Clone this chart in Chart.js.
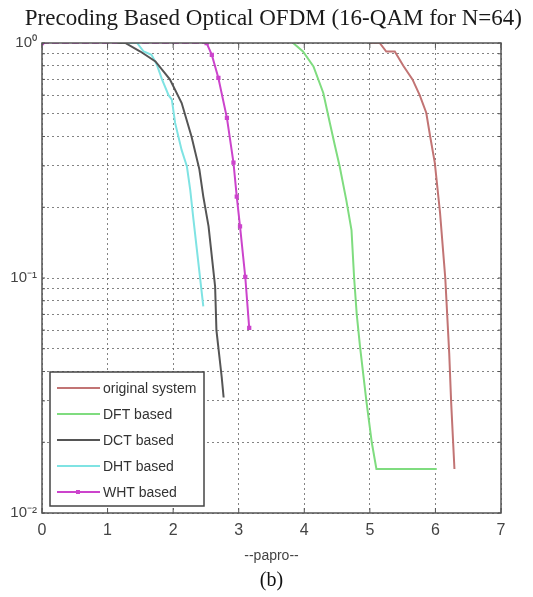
<!DOCTYPE html>
<html>
<head>
<meta charset="utf-8">
<title>Precoding Based Optical OFDM</title>
<script src="https://cdn.jsdelivr.net/npm/chart.js@4.4.1/dist/chart.umd.min.js"></script>
<style>
    body { margin: 0; background: #fff; }
    canvas { display: block; }
</style>
</head>
<body>
<canvas id="grafic" width="533" height="597"></canvas>
<script>
"use strict";

// curves (x = papro, y = CCDF)
const origX = [5.00, 5.15, 5.25, 5.38, 5.51, 5.65, 5.76, 5.86, 5.92, 5.99, 6.07, 6.15, 6.21, 6.24, 6.29];
const origY = [1.0, 1.0, 0.92, 0.92, 0.80, 0.70, 0.60, 0.505, 0.40, 0.31, 0.19, 0.10, 0.048, 0.0295, 0.0154];

const dftX = [3.83, 3.98, 4.14, 4.29, 4.39, 4.47, 4.54, 4.64, 4.72, 4.76, 4.80, 4.85, 4.95, 5.03, 5.10, 6.02];
const dftY = [1.0, 0.92, 0.795, 0.613, 0.457, 0.363, 0.298, 0.215, 0.16, 0.10, 0.07, 0.051, 0.0295, 0.0199, 0.0154, 0.0154];

const dctX = [1.15, 1.27, 1.50, 1.73, 1.95, 2.13, 2.28, 2.40, 2.46, 2.54, 2.64, 2.66, 2.74, 2.77];
const dctY = [1.0, 1.0, 0.92, 0.835, 0.70, 0.555, 0.40, 0.29, 0.222, 0.166, 0.092, 0.06, 0.038, 0.031];

const dhtX = [1.20, 1.45, 1.55, 1.67, 1.75, 1.83, 1.93, 1.98, 2.03, 2.13, 2.21, 2.26, 2.31, 2.46];
const dhtY = [1.0, 1.0, 0.92, 0.89, 0.81, 0.70, 0.60, 0.574, 0.457, 0.35, 0.298, 0.238, 0.177, 0.0757];

const whtX = [0, 2.51, 2.59, 2.69, 2.82, 2.92, 2.97, 3.02, 3.10, 3.16];
const whtY = [1.0, 1.0, 0.89, 0.71, 0.48, 0.31, 0.222, 0.166, 0.101, 0.0613];

const seriesNames = ['original system', 'DFT based', 'DCT based', 'DHT based', 'WHT based'];
const seriesColors = ['#c27474', '#7fdc7f', '#555555', '#7fe3e3', '#cc44cc'];

const xTicks = [0, 1, 2, 3, 4, 5, 6, 7];
const yTicks = [0.01, 0.02, 0.03, 0.04, 0.05, 0.06, 0.07, 0.08, 0.09,
                0.1, 0.2, 0.3, 0.4, 0.5, 0.6, 0.7, 0.8, 0.9, 1];
const yTickLabels = {'0.01': '10⁻²', '0.1': '10⁻¹', '1': '10⁰'};

const sansFont = "'Liberation Sans', Arial, sans-serif";
const serifFont = "'Liberation Serif', 'Times New Roman', serif";

function points(xs, ys) {
    return xs.map(function (x, i) { return {x: x, y: ys[i]}; });
}

function makeSet(i, xs, ys) {
    return {
        label: seriesNames[i],
        data: points(xs, ys),
        borderColor: seriesColors[i],
        backgroundColor: seriesColors[i],
        borderWidth: 2,
        showLine: true,
        tension: 0,
        pointRadius: 0,
        yAxisID: 'y'
    };
}

let whtSet = makeSet(4, whtX, whtY);
whtSet.pointRadius = 1.6;
whtSet.pointStyle = 'rect';
whtSet.segment = {
    borderDash: function (c) {
        return (c.p0.parsed.y === 1 && c.p1.parsed.y === 1) ? [7, 3] : undefined;
    }
};

// box round the plot, inside ticks and the legend in the lower left corner
const framePlugin = {
    id: 'framePlugin',
    afterDatasetsDraw(chart) {
        let ctx = chart.ctx;
        let a = chart.chartArea;
        let xs = chart.scales.x;
        let ys = chart.scales.y;
        ctx.save();
        ctx.strokeStyle = '#555';
        ctx.lineWidth = 1.5;
        ctx.strokeRect(a.left, a.top, a.right - a.left, a.bottom - a.top);

        ctx.lineWidth = 1;
        ctx.beginPath();
        xTicks.forEach(function (v) {
            let px = xs.getPixelForValue(v);
            ctx.moveTo(px, a.bottom); ctx.lineTo(px, a.bottom - 5);
            ctx.moveTo(px, a.top); ctx.lineTo(px, a.top + 5);
        });
        yTicks.forEach(function (v) {
            let py = ys.getPixelForValue(v);
            ctx.moveTo(a.left, py); ctx.lineTo(a.left + 3, py);
            ctx.moveTo(a.right, py); ctx.lineTo(a.right - 3, py);
        });
        ctx.stroke();

        // legend
        let left = a.left + 8;
        let top = a.bottom - 141;
        ctx.fillStyle = '#fff';
        ctx.fillRect(left, top, 154, 134);
        ctx.strokeStyle = '#444';
        ctx.lineWidth = 1.5;
        ctx.strokeRect(left, top, 154, 134);
        ctx.font = '14px ' + sansFont;
        ctx.textBaseline = 'middle';
        ctx.textAlign = 'left';
        chart.data.datasets.forEach(function (ds, i) {
            let y = top + 16 + i * 26;
            ctx.strokeStyle = ds.borderColor;
            ctx.lineWidth = 2;
            ctx.beginPath();
            ctx.moveTo(left + 7, y);
            ctx.lineTo(left + 50, y);
            ctx.stroke();
            if (ds.pointRadius > 0) {
                ctx.fillStyle = ds.borderColor;
                ctx.fillRect(left + 26, y - 2, 4, 4);
            }
            ctx.fillStyle = '#333';
            ctx.fillText(ds.label, left + 53, y + 1);
        });
        ctx.restore();
    }
};

const gridStyle = {
    color: 'rgba(90,90,90,0.75)',
    lineWidth: 1,
    drawTicks: false
};

function main() {
    new Chart(document.getElementById('grafic'), {
        type: 'scatter',
        data: {
            datasets: [
                makeSet(0, origX, origY),
                makeSet(1, dftX, dftY),
                makeSet(2, dctX, dctY),
                makeSet(3, dhtX, dhtY),
                whtSet
            ]
        },
        options: {
            responsive: false,
            animation: false,
            layout: {
                autoPadding: false,
                padding: {left: 0, right: 11, top: 0, bottom: 0}
            },
            plugins: {
                legend: {display: false},
                tooltip: {enabled: false},
                title: {
                    display: true,
                    align: 'end',
                    text: 'Precoding Based Optical OFDM (16-QAM for N=64)',
                    color: '#1a1a1a',
                    font: {family: serifFont, size: 23, weight: 'normal', lineHeight: 1.2},
                    padding: {top: 5, bottom: 10.4}
                },
                subtitle: {
                    display: true,
                    fullSize: false,
                    position: 'bottom',
                    text: '(b)',
                    color: '#111',
                    font: {family: serifFont, size: 20, lineHeight: 1.2},
                    padding: {top: 0, bottom: 4}
                }
            },
            scales: {
                x: {
                    type: 'linear',
                    min: 0,
                    max: 7,
                    afterFit: function (scale) { scale.height = 56; },
                    afterBuildTicks: function (scale) {
                        scale.ticks = xTicks.map(function (v) { return {value: v}; });
                    },
                    ticks: {
                        color: '#444',
                        padding: 8,
                        maxRotation: 0,
                        font: {family: sansFont, size: 16}
                    },
                    grid: Object.assign({}, gridStyle),
                    border: {display: false, dash: [2, 3]},
                    title: {
                        display: true,
                        text: '--papro--',
                        color: '#444',
                        font: {family: sansFont, size: 14, lineHeight: 1.2},
                        padding: {top: 0, bottom: 4}
                    }
                },
                y: {
                    type: 'logarithmic',
                    min: 0.01,
                    max: 1,
                    afterFit: function (scale) { scale.width = 42; },
                    afterBuildTicks: function (scale) {
                        scale.ticks = yTicks.map(function (v) { return {value: v}; });
                    },
                    ticks: {
                        color: '#444',
                        padding: 5,
                        autoSkip: false,
                        font: {family: sansFont, size: 15},
                        callback: function (value) {
                            return yTickLabels[String(value)] || '';
                        }
                    },
                    grid: Object.assign({}, gridStyle),
                    border: {display: false, dash: [2, 3]}
                },
                // empty right margin so the plot box ends where it does in the picture
                yRight: {
                    type: 'linear',
                    position: 'right',
                    display: true,
                    afterFit: function (scale) { scale.width = 21; },
                    ticks: {display: false},
                    grid: {display: false},
                    border: {display: false}
                }
            }
        },
        plugins: [framePlugin]
    });
}

document.addEventListener('DOMContentLoaded', main);
</script>
</body>
</html>
